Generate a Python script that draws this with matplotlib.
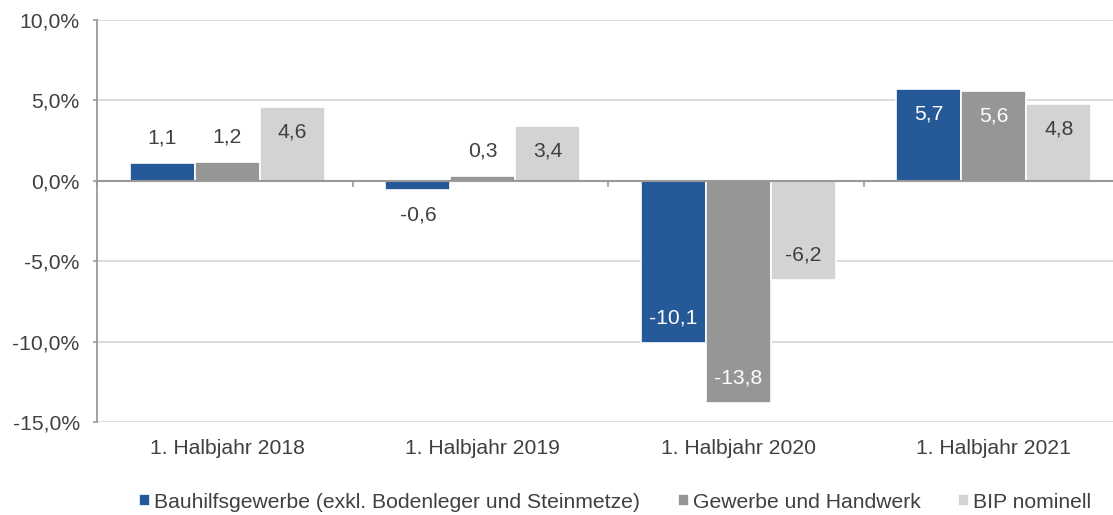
import matplotlib
matplotlib.use("Agg")
import matplotlib.pyplot as plt
import numpy as np
from matplotlib.ticker import FuncFormatter

plt.rcParams['font.family'] = ['Liberation Sans', 'DejaVu Sans']

categories = ["1. Halbjahr 2018", "1. Halbjahr 2019", "1. Halbjahr 2020", "1. Halbjahr 2021"]
series = ["Bauhilfsgewerbe (exkl. Bodenleger und Steinmetze)", "Gewerbe und Handwerk", "BIP nominell"]
bauhilf = [1.1, -0.6, -10.1, 5.7]
gewerbe = [1.2, 0.3, -13.8, 5.6]
bip = [4.6, 3.4, -6.2, 4.8]
yticks = [-15, -10, -5, 0, 5, 10]

colors = ["#265998", "#969696", "#d3d3d3"]
inside_text = ["white", "white", "#404040"]
text_dark = "#404040"
fs = 15.2

fig = plt.figure(figsize=(11.13, 5.15), dpi=100)
ax = fig.add_axes([97 / 1113, 93 / 515, 1022 / 1113, 402 / 515])

x = np.arange(len(categories))
w = 0.254
handles = []
for i, vals in enumerate([bauhilf, gewerbe, bip]):
    pos = x + (i - 1) * w + 0.01
    b = ax.bar(pos, vals, width=w, color=colors[i], edgecolor="white",
               linewidth=1.2, zorder=3, label=series[i])
    handles.append(b)
    for px, v in zip(pos, vals):
        lab = f"{v:.1f}".replace(".", ",")
        inside = abs(v) > 2
        if inside:
            off = -18 if v > 0 else 18
            col = inside_text[i]
        else:
            off = 18 if v > 0 else -18
            col = text_dark
        ax.annotate(lab, (px, v), xytext=(0, off), textcoords="offset points",
                    ha="center", va="center", fontsize=fs, color=col, zorder=4)

ax.set_ylim(-15, 10)
ax.set_xlim(-0.5, len(categories) - 0.5)
ax.set_yticks(yticks)
ax.yaxis.set_major_formatter(FuncFormatter(lambda v, p: f"{v:.1f}%".replace(".", ",")))
ax.grid(axis="y", color="#d9d9d9", linewidth=1.3, zorder=0)

for s in ["top", "right"]:
    ax.spines[s].set_visible(False)
ax.spines["left"].set_color("#999999")
ax.spines["left"].set_linewidth(1.3)
ax.spines["bottom"].set_position(("data", 0))
ax.spines["bottom"].set_color("#999999")
ax.spines["bottom"].set_linewidth(1.5)
ax.spines["bottom"].set_zorder(5)

ax.set_xticks(np.arange(len(categories) + 1) - 0.5)
ax.set_xticklabels([])
ax.tick_params(axis="x", direction="out", length=4, color="#999999", width=1.2)
ax.tick_params(axis="y", direction="out", length=3, color="#999999", width=1.2,
               pad=9.5, labelsize=fs, labelcolor=text_dark)

for xi, c in zip(x, categories):
    ax.text(xi + 0.01, -0.066, c, transform=ax.get_xaxis_transform(), ha="center",
            va="center", fontsize=fs, color=text_dark)

# legend entries are spaced unevenly in the original, so one legend per entry
legend_x = [139, 678, 958]
for h, lab, lx in zip(handles, series, legend_x):
    fig.legend(handles=[h], labels=[lab], loc="center left",
               bbox_to_anchor=(lx / 1113, 13 / 515), frameon=False,
               fontsize=fs, handlelength=0.52, handleheight=0.48,
               handletextpad=0.2, borderpad=0, borderaxespad=0,
               labelcolor=text_dark)

fig.savefig("out.png", dpi=100)
